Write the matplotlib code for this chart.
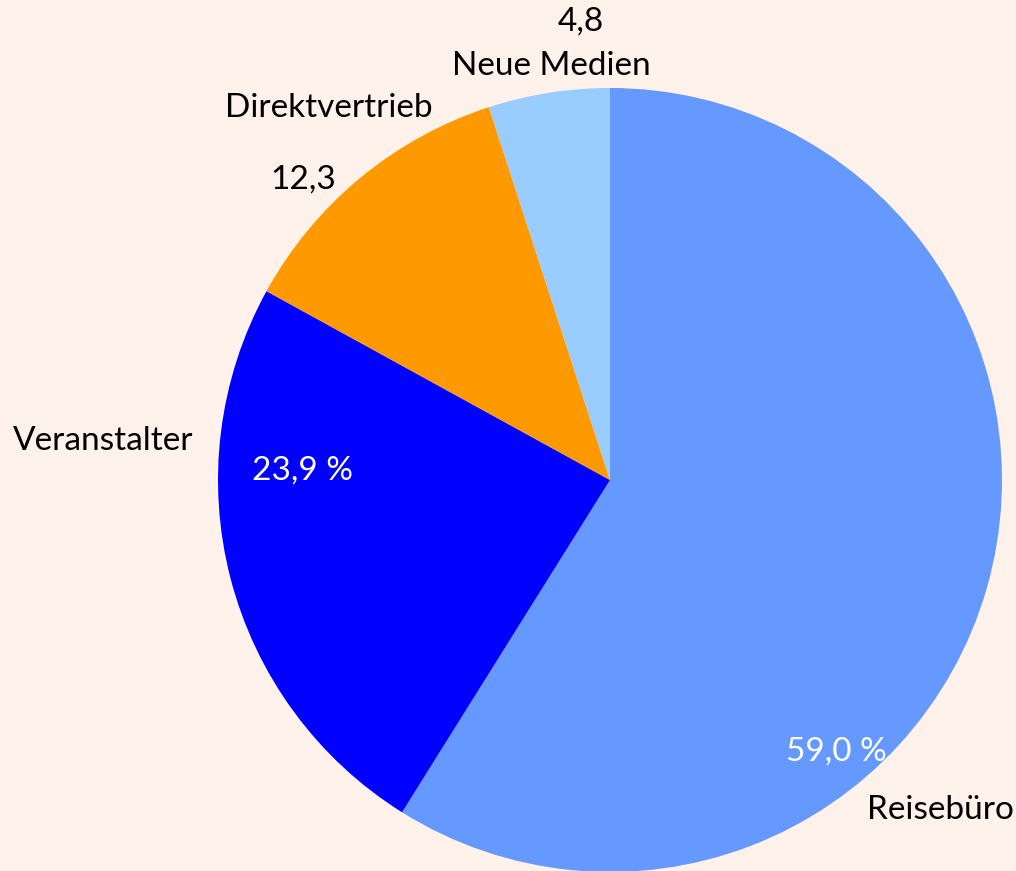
import matplotlib
matplotlib.use("Agg")
import matplotlib.pyplot as plt
from matplotlib.patches import Wedge

categories = ["Reisebüro", "Veranstalter", "Direktvertrieb", "Neue Medien"]
# slice sizes as drawn in the reference (labels show the published figures)
values = [58.9, 24.1, 12.0, 5.0]
value_labels = ["59,0 %", "23,9 %", "12,3", "4,8"]
colors = ["#6699FF", "#0000FF", "#FF9900", "#99CCFF"]
bg = "#FFF2EB"

plt.rcParams['font.family'] = ['Lato', 'DejaVu Sans']

W, H = 1016, 871
fig = plt.figure(figsize=(W / 100, H / 100), dpi=100, facecolor=bg)
ax = fig.add_axes([0, 0, 1, 1])
ax.set_facecolor(bg)
ax.set_xlim(0, W)
ax.set_ylim(H, 0)
ax.axis("off")

cx, cy, r = 610, 480, 392
total = sum(values)
ang = 90.0
for v, c in zip(values, colors):
    a2 = ang - v / total * 360.0
    # y axis inverted: negate angles so slices run clockwise on screen
    ax.add_patch(Wedge((cx, cy), r, -ang, -a2, facecolor=c, linewidth=0))
    ang = a2

fs = 24
txt = dict(fontsize=fs, ha="center", va="center")
ax.text(581, 22, value_labels[3], color="black", **txt)
ax.text(551, 66, categories[3], color="black", **txt)
ax.text(329, 108, categories[2], color="black", **txt)
ax.text(303, 180, value_labels[2], color="black", **txt)
ax.text(103, 441, categories[1], color="black", **txt)
ax.text(303, 471, value_labels[1], color="white", **txt)
ax.text(836, 752, value_labels[0], color="white", **txt)
ax.text(940, 810, categories[0], color="black", **txt)

fig.savefig("out.png", dpi=100, facecolor=bg)
